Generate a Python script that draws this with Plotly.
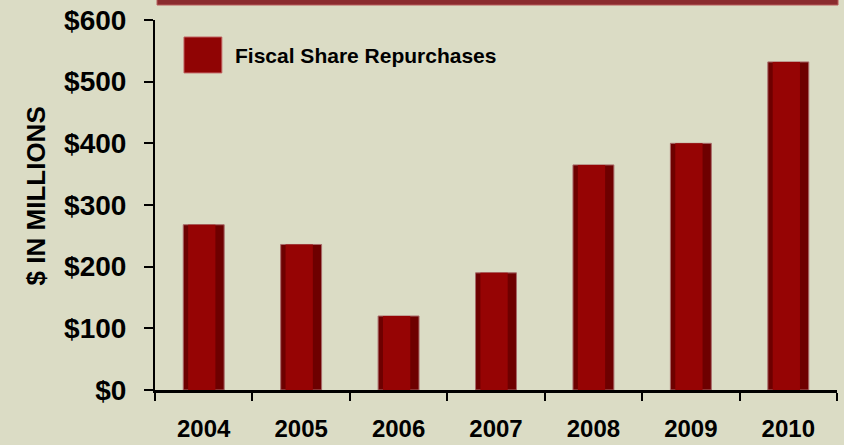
import plotly.graph_objects as go

years = ["2004", "2005", "2006", "2007", "2008", "2009", "2010"]
repurchases = [268, 236, 120, 190, 365, 400, 532]
series_name = "Fiscal Share Repurchases"
y_ticks = [0, 100, 200, 300, 400, 500, 600]
y_tick_labels = ["$0", "$100", "$200", "$300", "$400", "$500", "$600"]

BG = "#DBDCC5"
FONT = "Liberation Sans, Arial, sans-serif"

fig = go.Figure()
# bar body (darker edges)
fig.add_trace(go.Bar(
    x=years, y=repurchases, name=series_name, width=0.42,
    marker=dict(color="#6E0000", line=dict(color="#A86A6A", width=1)),
    showlegend=False, hoverinfo="x+y",
))
# lighter core for a cylinder-like look
fig.add_trace(go.Bar(
    x=years, y=repurchases, name=series_name, width=0.28, offset=-0.16,
    marker=dict(color="#960404", line=dict(width=0)),
    showlegend=False, hoverinfo="skip",
))

fig.update_layout(
    width=844, height=445,
    margin=dict(l=155, r=7, t=20, b=55),
    paper_bgcolor=BG, plot_bgcolor=BG,
    barmode="overlay",
    font=dict(family=FONT, color="black"),
    xaxis=dict(
        showline=True, linecolor="black", linewidth=3,
        ticks="outside", tickson="boundaries", ticklen=8, tickwidth=2, tickcolor="black",
        tickfont=dict(size=24, family=FONT, weight="bold"),
        ticklabelstandoff=15, automargin=False,
        showgrid=False,
    ),
    yaxis=dict(
        range=[0, 600], tickvals=y_ticks, ticktext=y_tick_labels,
        showline=True, linecolor="black", linewidth=2,
        ticks="outside", ticklen=9, tickwidth=2, tickcolor="black",
        tickfont=dict(size=28, family=FONT, weight="bold"),
        ticklabelstandoff=12, automargin=False,
        showgrid=False, zeroline=False,
    ),
    shapes=[
        dict(type="rect", xref="paper", yref="paper", x0=0.003, x1=1.0015, y0=1.0405, y1=1.06,
             fillcolor="#8A2B2E", line=dict(color="#B75A5A", width=1)),
        dict(type="rect", xref="paper", yref="paper", x0=0.0425, x1=0.098, y0=0.857, y1=0.954,
             fillcolor="#900404", line=dict(color="#C06060", width=1)),
    ],
    annotations=[
        dict(text="<b>" + series_name + "</b>", xref="paper", yref="paper", x=0.1145, y=0.905,
             xanchor="left", yanchor="middle", showarrow=False, font=dict(size=21, family=FONT)),
        dict(text="<b>$ IN MILLIONS</b>", xref="paper", yref="paper", x=-0.175, y=0.525,
             xanchor="center", yanchor="middle", textangle=-90, showarrow=False,
             font=dict(size=26, family=FONT)),
    ],
)

fig.write_html("out.html", config={"displayModeBar": False},
               post_script="document.body.style.margin='0';")
